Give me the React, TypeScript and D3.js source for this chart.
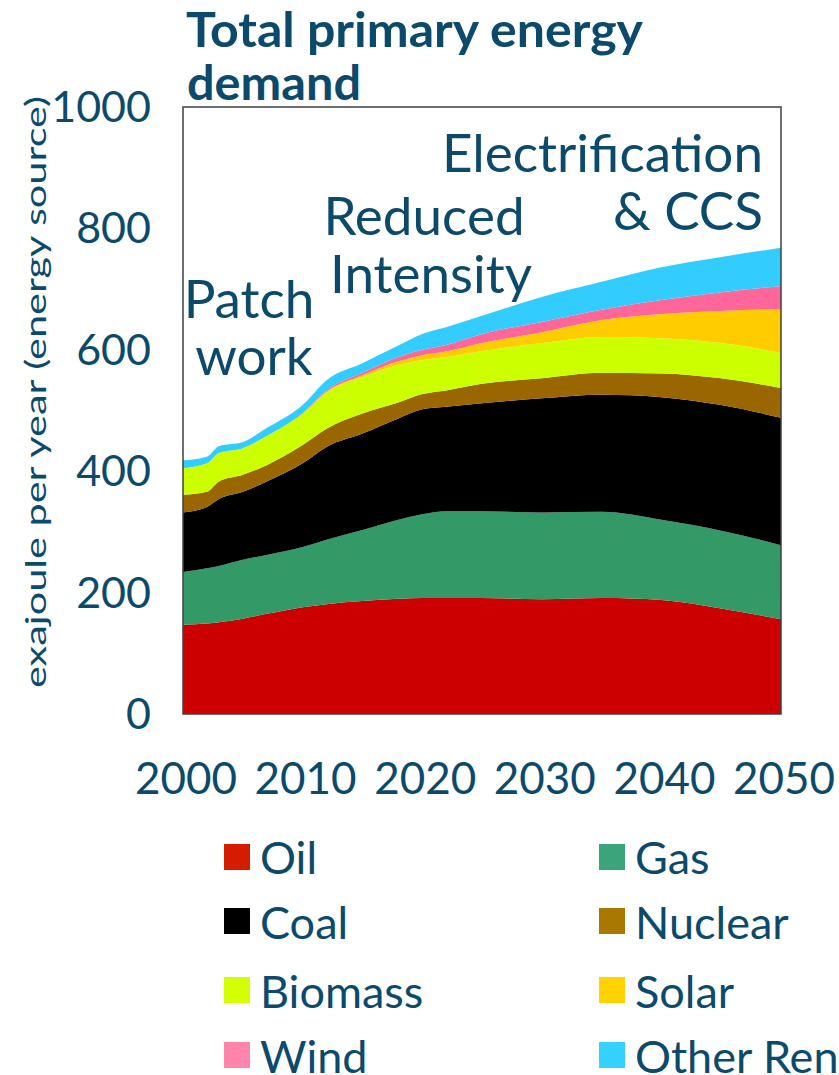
import React from "react";
import * as d3 from "d3";

// Years sampled along the projection
const years = [2000, 2002, 2003, 2005, 2007, 2010, 2012, 2015, 2018, 2020, 2022, 2025, 2030, 2035, 2040, 2045, 2050];

// Primary energy demand by source, exajoule per year
const oil = [147, 149, 151, 157, 165, 176, 181, 186, 190, 191, 191, 191, 189, 191, 188, 174, 156];
const gas = [87, 91, 93, 97, 97, 99, 106, 117, 130, 138, 143, 143, 143, 142, 132, 128, 122];
const coal = [98, 101, 110, 112, 121, 138, 153, 159, 167, 173, 172, 178, 188, 193, 202, 207, 210];
const nuclear = [29, 25, 29, 28, 27, 30, 30, 33, 26, 25, 27, 32, 33, 36, 39, 44, 49];
const biomass = [44, 47, 47, 44, 48, 52, 60, 60, 62, 56, 55, 54, 58, 59, 58, 58, 58];
const solar = [0, 0, 0, 0, 0, 0, 1, 3, 6, 8, 9, 13, 18, 28, 40, 53, 72];
const wind = [0, 0, 0, 0, 0, 1, 2, 4, 7, 9, 11, 15, 17, 17, 23, 31, 38];
const otherRenewables = [13, 11, 11, 10, 13, 13, 17, 16, 19, 26, 29, 30, 41, 46, 54, 58, 63];

const seriesKeys = ["Oil", "Gas", "Coal", "Nuclear", "Biomass", "Solar", "Wind", "Other Renewables"];
const seriesValues = [oil, gas, coal, nuclear, biomass, solar, wind, otherRenewables];
const areaColors = ["#cc0000", "#339966", "#000000", "#996600", "#ccff00", "#ffcc00", "#ff6699", "#33ccff"];
const legendColors = ["#d41c00", "#3aa57a", "#000000", "#a87800", "#d4ff00", "#ffd200", "#ff85ad", "#36d2ff"];

const yTicks = [0, 200, 400, 600, 800, 1000];
const xTicks = [2000, 2010, 2020, 2030, 2040, 2050];

const INK = "#0b4a6b";
const FONT = "Lato, 'Open Sans', sans-serif";

export default function App() {
  const x = d3.scaleLinear().domain([2000, 2050]).range([183, 781]);
  const y = d3.scaleLinear().domain([0, 1000]).range([714, 107]);

  const rows = years.map((yr, i) => {
    const r: Record<string, number> = { year: yr };
    seriesKeys.forEach((k, j) => (r[k] = seriesValues[j][i]));
    return r;
  });
  const stacked = d3.stack<Record<string, number>>().keys(seriesKeys)(rows);
  const area = d3
    .area<d3.SeriesPoint<Record<string, number>>>()
    .x((d) => x(d.data.year))
    .y0((d) => y(d[0]))
    .y1((d) => y(d[1]))
    .curve(d3.curveMonotoneX);

  const legendRows = [
    { y: 844, base: 874 },
    { y: 908, base: 939 },
    { y: 977, base: 1008 },
    { y: 1042, base: 1073 },
  ];
  const legendCols = [224, 599];

  return (
    <svg width={839} height={1075} style={{ position: "absolute", left: 0, top: 0 }}>
      <rect x={0} y={0} width={839} height={1075} fill="#fff" />
      {/* title */}
      <text x={186} y={47} fill={INK} fontFamily={FONT} fontWeight={700} fontSize={47} textLength={457} lengthAdjust="spacingAndGlyphs">
        Total primary energy
      </text>
      <text x={187} y={100} fill={INK} fontFamily={FONT} fontWeight={700} fontSize={47} textLength={174} lengthAdjust="spacingAndGlyphs">
        demand
      </text>

      {/* stacked areas */}
      {stacked.map((s, i) => (
        <path key={s.key} d={area(s) || ""} fill={areaColors[i]} />
      ))}
      <rect x={183} y={107} width={598} height={607} fill="none" stroke="#404040" strokeWidth={1.5} />

      {/* y axis */}
      {yTicks.map((t) => (
        <text key={t} x={151} y={y(t) + 15} textAnchor="end" fill={INK} fontFamily={FONT} fontSize={43}>
          {t}
        </text>
      ))}
      <text
        transform="translate(46,392) rotate(-90)"
        textAnchor="middle"
        fill={INK}
        fontFamily={FONT}
        fontSize={28}
        textLength={592}
        lengthAdjust="spacingAndGlyphs"
      >
        exajoule per  year (energy source)
      </text>

      {/* x axis */}
      {xTicks.map((t) => (
        <text key={t} x={x(t) + 3} y={794} textAnchor="middle" fill={INK} fontFamily={FONT} fontSize={44} textLength={102} lengthAdjust="spacingAndGlyphs">
          {t}
        </text>
      ))}

      {/* scenario annotations */}
      <g fill={INK} fontFamily={FONT} fontSize={53}>
        <text x={249} y={318} textAnchor="middle">Patch</text>
        <text x={254} y={375} textAnchor="middle">work</text>
        <text x={424} y={235} textAnchor="middle">Reduced</text>
        <text x={431} y={293} textAnchor="middle">Intensity</text>
        <text x={763} y={172} textAnchor="end">Electrification</text>
        <text x={763} y={230} textAnchor="end">&amp; CCS</text>
      </g>

      {/* legend */}
      {seriesKeys.map((k, i) => {
        const row = legendRows[Math.floor(i / 2)];
        const cx = legendCols[i % 2];
        return (
          <g key={k}>
            <rect x={cx} y={row.y} width={26} height={26} fill={legendColors[i]} />
            <text x={cx + 36} y={row.base} fill={INK} fontFamily={FONT} fontSize={45}>
              {k}
            </text>
          </g>
        );
      })}
    </svg>
  );
}
